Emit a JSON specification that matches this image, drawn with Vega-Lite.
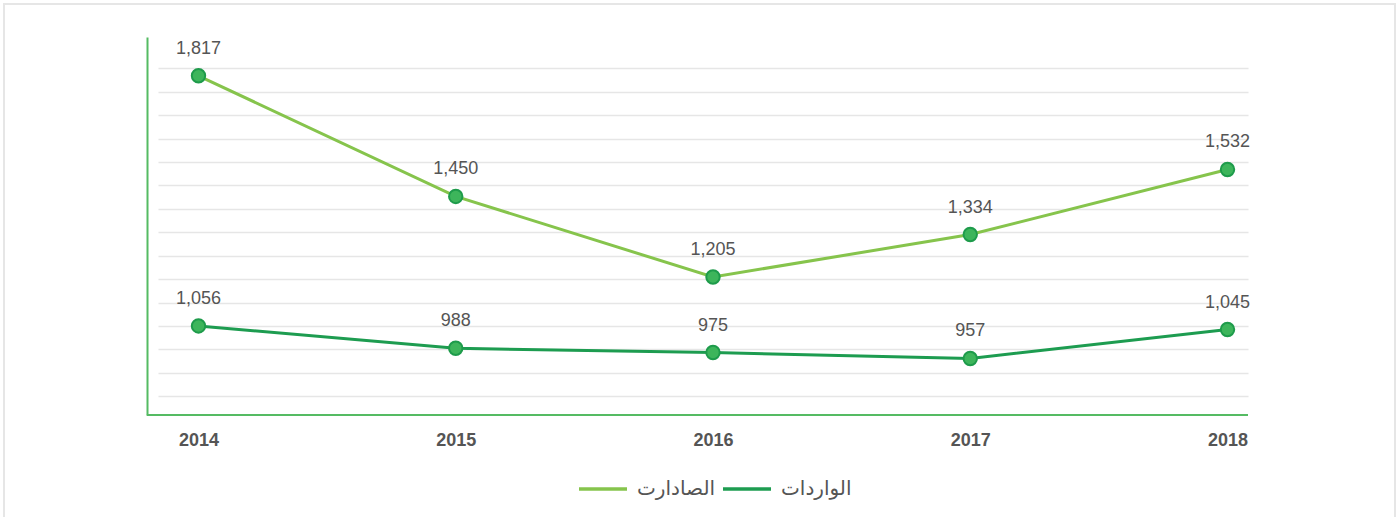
{
  "$schema": "https://vega.github.io/schema/vega-lite/v6.json",
  "width": 1090,
  "height": 378,
  "autosize": {"type": "none"},
  "padding": {"left": 158, "top": 37, "right": 152, "bottom": 102},
  "background": "white",
  "config": {"view": {"stroke": null}},
  "data": {
    "values": [
      {"year": 2014, "series": "الصادارت", "value": 1817},
      {"year": 2015, "series": "الصادارت", "value": 1450},
      {"year": 2016, "series": "الصادارت", "value": 1205},
      {"year": 2017, "series": "الصادارت", "value": 1334},
      {"year": 2018, "series": "الصادارت", "value": 1532},
      {"year": 2014, "series": "الواردات", "value": 1056},
      {"year": 2015, "series": "الواردات", "value": 988},
      {"year": 2016, "series": "الواردات", "value": 975},
      {"year": 2017, "series": "الواردات", "value": 957},
      {"year": 2018, "series": "الواردات", "value": 1045}
    ]
  },
  "encoding": {
    "x": {
      "field": "year", "type": "quantitative",
      "scale": {"domain": [2013.8426, 2018.0797], "nice": false, "zero": false},
      "axis": {
        "values": [2014, 2015, 2016, 2017, 2018], "format": "d", "title": null,
        "domain": false, "ticks": false, "grid": false, "labelFlush": false,
        "labelFont": "Liberation Sans", "labelFontWeight": "bold", "labelFontSize": 18,
        "labelColor": "#555555", "labelBaseline": "alphabetic", "labelPadding": 30.5
      }
    },
    "y": {
      "field": "value", "type": "quantitative",
      "scale": {"domain": [785, 1935], "nice": false, "zero": false},
      "axis": {
        "title": null, "labels": false, "ticks": false, "offset": 11,
        "domainColor": "#55bb63", "domainWidth": 2,
        "grid": true, "gridColor": "#e6e6e6", "gridWidth": 1.3,
        "values": [1839.8, 1768.5, 1697.2, 1625.9, 1554.7, 1483.4, 1412.1, 1340.8, 1269.6, 1198.3, 1127.0, 1055.7, 984.4, 913.2, 841.9]
      }
    }
  },
  "layer": [
    {
      "mark": {"type": "rect", "filled": false, "stroke": "#e6e6e6", "strokeWidth": 2},
      "encoding": {
        "x": {"datum": 2013.2439, "type": "quantitative"},
        "x2": {"datum": 2018.6511},
        "y": {"datum": 2035.4, "type": "quantitative"},
        "y2": {"datum": 435}
      }
    },
    {
      "mark": {"type": "rule", "stroke": "#55bb63", "strokeWidth": 2},
      "encoding": {
        "x": {"datum": 2013.7998, "type": "quantitative"},
        "x2": {"datum": 2018.0797},
        "y": {"datum": 785, "type": "quantitative"}
      }
    },
    {
      "mark": {"type": "line", "strokeWidth": 3},
      "encoding": {
        "color": {
          "field": "series", "type": "nominal",
          "scale": {"domain": ["الصادارت", "الواردات"], "range": ["#86c44c", "#1d9c50"]},
          "legend": {
            "title": null, "orient": "none", "direction": "horizontal",
            "legendX": 419, "legendY": 426,
            "symbolType": "stroke", "symbolSize": 2304, "symbolStrokeWidth": 3.5,
            "labelFont": "DejaVu Sans", "labelFontSize": 20, "labelColor": "#555555",
            "labelOffset": 8, "columnPadding": 0
          }
        }
      }
    },
    {
      "mark": {"type": "point", "filled": true, "shape": "circle", "size": 180, "fill": "#3db55b", "stroke": "#1e9b4b", "strokeWidth": 2, "opacity": 1}
    },
    {
      "mark": {"type": "text", "font": "Liberation Sans", "fontSize": 18, "fill": "#555555", "baseline": "alphabetic", "dy": -22},
      "encoding": {
        "text": {"field": "value", "type": "quantitative", "format": ","}
      }
    }
  ]
}
